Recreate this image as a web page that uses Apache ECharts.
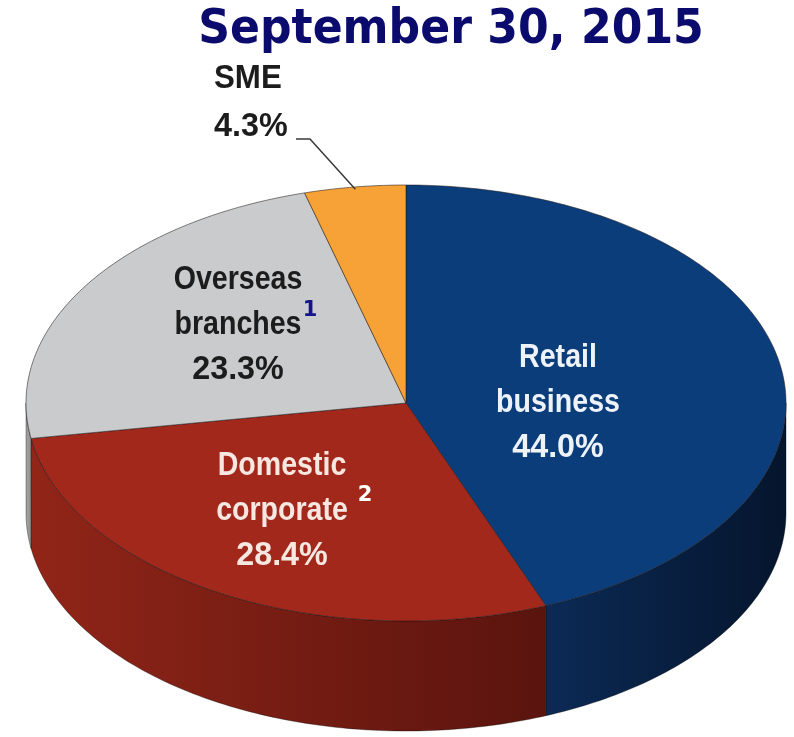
<!DOCTYPE html>
<html>
<head>
<meta charset="utf-8">
<script src="https://cdn.jsdelivr.net/npm/echarts@6/dist/echarts.min.js"></script>
<style>
html,body{margin:0;padding:0;background:#fff;}
#main{width:794px;height:737px;}
</style>
</head>
<body>
<div id="main"></div>
<script>
// data
var chartTitle = 'September 30, 2015';
var segments = ['Retail\nbusiness', 'Domestic\ncorporate', 'Overseas\nbranches', 'SME'];
var shares = [44.0, 28.4, 23.3, 4.3];
var notes = ['', '2', '1', ''];

// colours / layout
var topColors = ['#0b3d7b', '#a2281c', '#cacbcc', '#f7a236'];
var sideColors = [['#0b2a55', '#05152d'], ['#912518', '#5a140e'], ['#a8a8a8', '#8c8c8c'], ['#c77a1e', '#a8620f']];
var textColors = ['#eef3f9', '#f6e7e1', '#1c1c1c', '#1c1c1c'];
var noteColors = ['#ffffff', '#ffffff', '#14148a', '#ffffff'];
var labelPos = [[558, 358], [282, 466], [238, 280], [214, 79]];
var notePos = [null, [365, 496], [310, 311], null];
var leaderStart = [[296, 139], [310, 139]];
var cx = 406, cy = 403, rx = 380, ry = 218, depth = 110;
var squash = ry / rx;

// start / end of each slice (percent of the circle)
var sliceData = [];
var acc = 0;
for (var i = 0; i < shares.length; i++) {
    sliceData.push({name: segments[i], value: [1, acc, acc + shares[i]]});
    acc += shares[i];
}

function renderSlice(params, api) {
    var i = params.dataIndex;
    var s = api.value(1), e = api.value(2);
    function pt(r, p) {
        var c = api.coord([r, p]);
        return [c[0], cy + (c[1] - cy) * squash];
    }
    function arc(a, b, dy) {
        var pts = [];
        var n = Math.max(2, Math.ceil((b - a) / 0.25));
        for (var k = 0; k <= n; k++) {
            var q = pt(1, a + (b - a) * k / n);
            pts.push([q[0], q[1] + dy]);
        }
        return pts;
    }
    var children = [];
    // front wall (visible between 25% and 75%)
    var fs = Math.max(s, 25), fe = Math.min(e, 75);
    if (fe > fs) {
        var upper = arc(fs, fe, 0);
        var lower = arc(fs, fe, depth).reverse();
        children.push({
            type: 'polygon',
            shape: {points: upper.concat(lower)},
            style: {
                fill: {type: 'linear', x: 0, y: 0, x2: 1, y2: 0, colorStops: [
                    {offset: 0, color: sideColors[i][0]}, {offset: 1, color: sideColors[i][1]}]},
                stroke: 'rgba(0,0,0,0.35)', lineWidth: 1
            }
        });
    }
    // top face
    children.push({
        type: 'polygon',
        shape: {points: [pt(0, 0)].concat(arc(s, e, 0))},
        style: {fill: topColors[i], stroke: 'rgba(35,25,25,0.55)', lineWidth: 1}
    });
    // labels
    var outside = i === shares.length - 1;
    var lp = labelPos[i];
    var gap = outside ? 48 : 45;
    var lines = segments[i].split('\n').concat([shares[i].toFixed(1) + '%']);
    lines.forEach(function (t, k) {
        var isPct = k === lines.length - 1;
        children.push({
            type: 'text', x: lp[0], y: lp[1] + k * gap, z2: 10,
            scaleX: isPct ? 0.95 : (outside ? 0.92 : 0.84),
            style: {
                text: t, fill: textColors[i],
                font: 'bold 34px "Liberation Sans", Arial, sans-serif',
                align: outside ? 'left' : 'center', verticalAlign: 'middle'
            }
        });
    });
    if (notes[i]) {
        children.push({
            type: 'text', x: notePos[i][0], y: notePos[i][1], z2: 10,
            style: {text: notes[i], fill: noteColors[i], font: 'bold 21px "DejaVu Sans", sans-serif',
                align: 'center', verticalAlign: 'middle'}
        });
    }
    if (outside) {
        var tip = pt(0.99, (s + e) / 2);
        children.push({
            type: 'polyline', z2: 10,
            shape: {points: [leaderStart[0], leaderStart[1], tip]},
            style: {stroke: '#3a3a3a', lineWidth: 1.5, fill: null}
        });
    }
    return {type: 'group', children: children};
}

var chart = echarts.init(document.getElementById('main'));
chart.setOption({
    animation: false,
    backgroundColor: '#ffffff',
    graphic: [{
        type: 'text', x: 451, y: 31, scaleX: 0.92,
        style: {
            text: chartTitle, fill: '#0b0b6e',
            font: 'bold 48px "DejaVu Sans", Verdana, sans-serif',
            align: 'center', verticalAlign: 'middle'
        }
    }],
    polar: {center: [cx, cy], radius: rx},
    angleAxis: {type: 'value', min: 0, max: 100, startAngle: 90, clockwise: true, show: false},
    radiusAxis: {type: 'value', min: 0, max: 1, show: false},
    series: [{
        type: 'custom',
        coordinateSystem: 'polar',
        encode: {radius: 0, angle: 1},
        renderItem: renderSlice,
        data: sliceData
    }]
});
</script>
</body>
</html>
